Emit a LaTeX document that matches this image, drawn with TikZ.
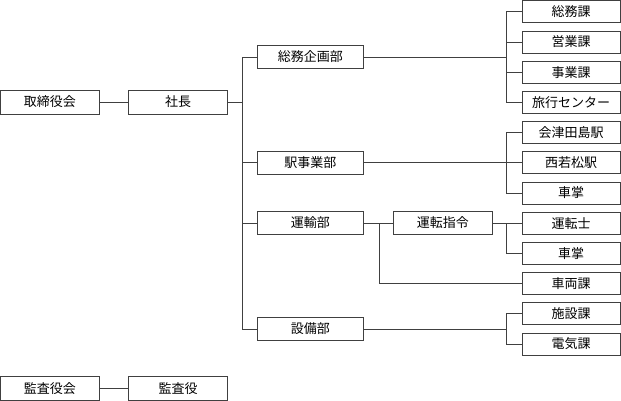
\documentclass[tikz,border=0pt]{standalone}
\usepackage{fontspec}
\setmainfont{Noto Sans CJK JP}
\usetikzlibrary{calc}

\begin{document}
\begin{tikzpicture}[x=1pt,y=1pt]
\tikzstyle{every node}+=[inner sep=0pt,font=\fontsize{13}{15}\selectfont]
\tikzstyle{topbox}=[draw=black!75,line width=0.8pt,minimum width=99pt,minimum height=24pt]
\tikzstyle{bubox}=[draw=black!75,line width=0.8pt,minimum width=106pt,minimum height=23pt]
\tikzstyle{kabox}=[draw=black!75,line width=0.8pt,minimum width=98pt,minimum height=22pt]
\tikzstyle{link}=[draw=black!75,line width=0.8pt]
\useasboundingbox (0,0) rectangle (621,-401);
% top level
\node [topbox] (torishimari) at (49.9,-102) {取締役会};
\node [topbox] (shacho) at (178.2,-102) {社長};
\node [topbox] (kansakai) at (49.9,-388.6) {監査役会};
\node [topbox] (kansayaku) at (178.2,-388.6) {監査役};
% departments
\node [bubox] (somu) at (310.3,-57) {総務企画部};
\node [bubox] (eki) at (310.3,-162.5) {駅事業部};
\node [bubox] (unyu) at (310.3,-223) {運輸部};
\node [bubox] (setsubi) at (310.3,-329) {設備部};
\node [topbox,minimum height=23pt] (shirei) at (442.8,-223) {運転指令};
% sections
\node [kabox] (somuka) at (571.2,-11.8) {総務課};
\node [kabox] (eigyo) at (571.2,-42) {営業課};
\node [kabox] (jigyo) at (571.2,-72.2) {事業課};
\node [kabox] (ryoko) at (571.2,-102.4) {旅行センター};
\node [kabox] (aizu) at (571.2,-132.6) {会津田島駅};
\node [kabox] (nishi) at (571.2,-162.8) {西若松駅};
\node [kabox] (shasho) at (571.2,-193) {車掌};
\node [kabox] (untenshi) at (571.2,-223.2) {運転士};
\node [kabox] (shashob) at (571.2,-253.4) {車掌};
\node [kabox] (sharyo) at (571.2,-283.6) {車両課};
\node [kabox] (shisetsu) at (571.2,-313.8) {施設課};
\node [kabox] (denki) at (571.2,-344) {電気課};
% connectors
\draw [link] (torishimari) -- (shacho);
\draw [link] (kansakai) -- (kansayaku);
\foreach \b in {somu,eki,unyu,setsubi}
  \draw [link] (shacho.east) -- ++(14.6,0) |- (\b.west);
\foreach \k in {somuka,eigyo,jigyo,ryoko}
  \draw [link] (somu.east) -| ([xshift=-15pt]\k.west) -- (\k.west);
\foreach \k in {aizu,nishi,shasho}
  \draw [link] (eki.east) -| ([xshift=-15pt]\k.west) -- (\k.west);
\draw [link] (unyu) -- (shirei);
\draw [link] (unyu.east) -- ++(15.4,0) |- (sharyo.west);
\foreach \k in {untenshi,shashob}
  \draw [link] (shirei.east) -| ([xshift=-15pt]\k.west) -- (\k.west);
\foreach \k in {shisetsu,denki}
  \draw [link] (setsubi.east) -| ([xshift=-15pt]\k.west) -- (\k.west);
\end{tikzpicture}
\end{document}
